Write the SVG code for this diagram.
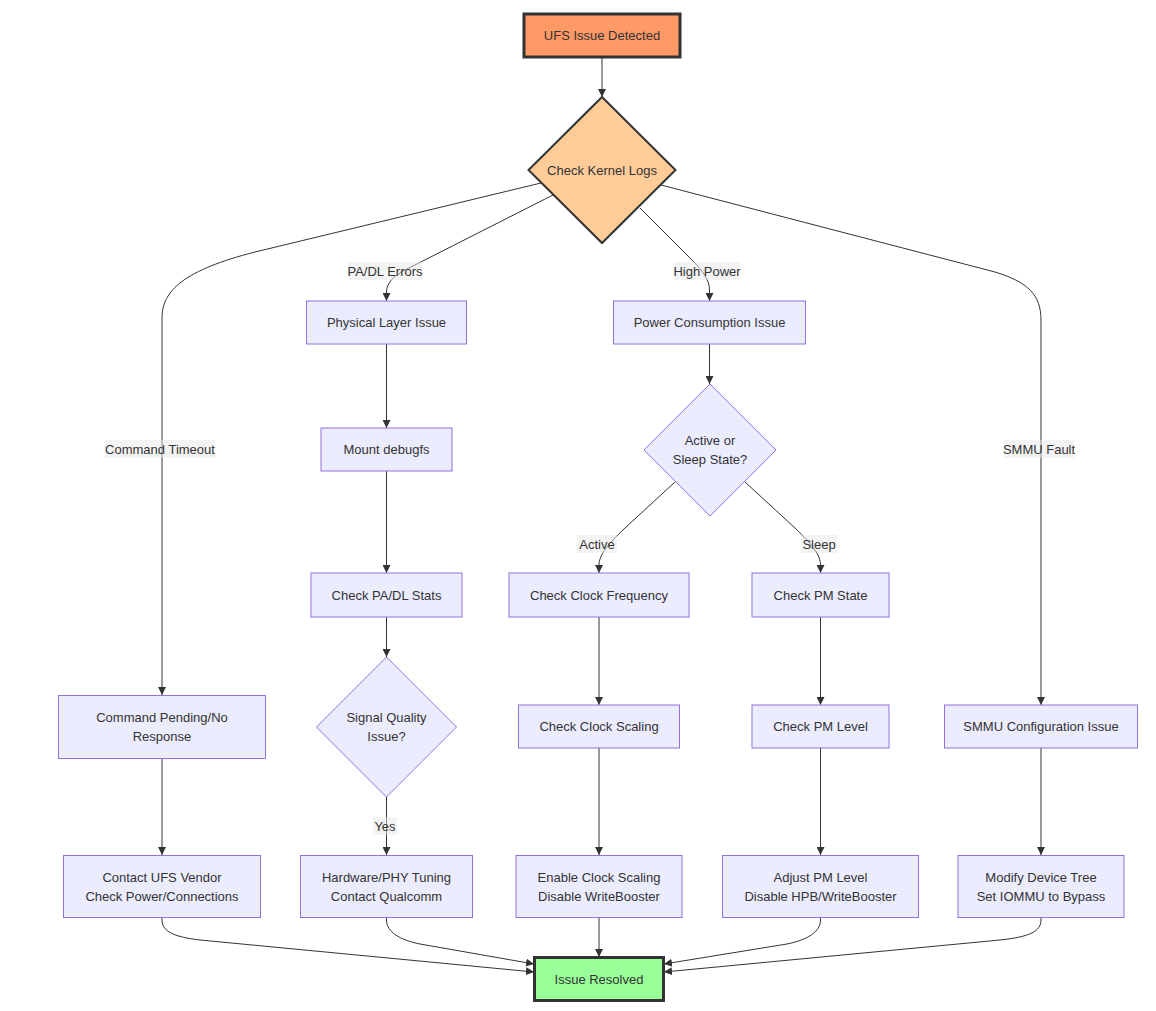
<svg xmlns="http://www.w3.org/2000/svg" width="1156" height="1011" viewBox="0 0 1156 1011">
<defs>
<marker id="arr" viewBox="0 0 10 10" refX="10" refY="5" markerWidth="8" markerHeight="8" markerUnits="userSpaceOnUse" orient="auto">
<path d="M0,0 L10,5 L0,10 z" fill="#333"/>
</marker>
<style>
.n{fill:#ECECFF;stroke:#9370DB;stroke-width:1}
.t{font-family:"Liberation Sans",Arial,sans-serif;font-size:13px;fill:#333;text-anchor:middle;dominant-baseline:central}
.e{fill:none;stroke:#333;stroke-width:1;marker-end:url(#arr)}
.lb{fill:#e8e8e8;fill-opacity:0.5}
</style>
</defs>
<rect width="1156" height="1011" fill="#fff"/>
<g id="connectors">
<path class="e" d="M602,57 L602,97"/>
<path class="e" d="M541,183 L255,252 C185,270 162,290 162,318 L162,695"/>
<path class="e" d="M553,195 L405,270 C392,277 386.5,284 386.5,292 L386.5,301"/>
<path class="e" d="M640,208 L690,258 C703,271 709.5,280 709.5,290 L709.5,301"/>
<path class="e" d="M661,185 L995,272 C1028,282 1041,295 1041,320 L1041,705"/>
<path class="e" d="M386.5,344 L386.5,428"/>
<path class="e" d="M386.5,471 L386.5,573"/>
<path class="e" d="M386.5,617 L386.5,657"/>
<path class="e" d="M386.5,797 L386.5,855"/>
<path class="e" d="M709.5,344 L709.5,384"/>
<path class="e" d="M675,482 L625,528 C606,546 599,556 599,565 L599,573"/>
<path class="e" d="M745,482 L795,528 C814,546 820.5,556 820.5,565 L820.5,573"/>
<path class="e" d="M599,617 L599,705"/>
<path class="e" d="M599,748 L599,855"/>
<path class="e" d="M820.5,617 L820.5,705"/>
<path class="e" d="M820.5,748 L820.5,855"/>
<path class="e" d="M162,758 L162,855"/>
<path class="e" d="M1041,748 L1041,855"/>
<path class="e" d="M162,917 L162,920 C162,932 175,937 200,940 L534,972"/>
<path class="e" d="M386.5,917 L386.5,920 C386.5,932 400,940 420,944 L534,964"/>
<path class="e" d="M599,917 L599,957"/>
<path class="e" d="M820.5,917 L820.5,920 C820.5,932 807,940 787,944 L664,964"/>
<path class="e" d="M1041,917 L1041,920 C1041,932 1028,937 1000,940 L664,972"/>
<rect class="lb" x="105" y="440" width="110" height="18"/>
<text class="t" x="160" y="449">Command Timeout</text>
<rect class="lb" x="348" y="262" width="74" height="18"/>
<text class="t" x="385" y="271">PA/DL Errors</text>
<rect class="lb" x="674" y="262" width="66" height="18"/>
<text class="t" x="707" y="271">High Power</text>
<rect class="lb" x="1004" y="440" width="70" height="18"/>
<text class="t" x="1039" y="449">SMMU Fault</text>
<rect class="lb" x="577" y="535" width="40" height="18"/>
<text class="t" x="597" y="544">Active</text>
<rect class="lb" x="801" y="535" width="36" height="18"/>
<text class="t" x="819" y="544">Sleep</text>
<rect class="lb" x="373" y="817" width="24" height="18"/>
<text class="t" x="385" y="826">Yes</text>
</g>
<g id="start">
<rect x="524" y="14" width="156" height="43" fill="#FF9966" stroke="#333" stroke-width="3"/>
<text class="t" x="602" y="35.5">UFS Issue Detected</text>
</g>
<g id="kernel">
<polygon points="602,97 675.5,170 602,243 528.5,170" fill="#FFCC99" stroke="#333" stroke-width="2"/>
<text class="t" x="602" y="170">Check Kernel Logs</text>
</g>
<g id="phys">
<rect class="n" x="306.5" y="301" width="160" height="43"/>
<text class="t" x="386.5" y="322.5">Physical Layer Issue</text>
</g>
<g id="power">
<rect class="n" x="613.5" y="301" width="192" height="43"/>
<text class="t" x="709.5" y="322.5">Power Consumption Issue</text>
</g>
<g id="mount">
<rect class="n" x="321" y="428" width="131" height="43"/>
<text class="t" x="386.5" y="449.5">Mount debugfs</text>
</g>
<g id="state">
<polygon class="n" points="710,384 776,450 710,516 644,450"/>
<text class="t" x="710" y="440">Active or</text>
<text class="t" x="710" y="459">Sleep State?</text>
</g>
<g id="padl">
<rect class="n" x="311" y="573" width="151" height="44"/>
<text class="t" x="386.5" y="595">Check PA/DL Stats</text>
</g>
<g id="clkfreq">
<rect class="n" x="509" y="573" width="180" height="44"/>
<text class="t" x="599" y="595">Check Clock Frequency</text>
</g>
<g id="pmstate">
<rect class="n" x="752" y="573" width="137" height="44"/>
<text class="t" x="820.5" y="595">Check PM State</text>
</g>
<g id="cmdpend">
<rect class="n" x="58.5" y="695.5" width="207" height="63"/>
<text class="t" x="162" y="717">Command Pending/No</text>
<text class="t" x="162" y="736">Response</text>
</g>
<g id="signal">
<polygon class="n" points="386.5,657 456.5,727 386.5,797 316.5,727"/>
<text class="t" x="386.5" y="717">Signal Quality</text>
<text class="t" x="386.5" y="736">Issue?</text>
</g>
<g id="clkscale">
<rect class="n" x="518.5" y="705" width="161" height="43"/>
<text class="t" x="599" y="726.5">Check Clock Scaling</text>
</g>
<g id="pmlevel">
<rect class="n" x="752" y="705" width="137" height="43"/>
<text class="t" x="820.5" y="726.5">Check PM Level</text>
</g>
<g id="smmu">
<rect class="n" x="944.5" y="705" width="193" height="43"/>
<text class="t" x="1041" y="726.5">SMMU Configuration Issue</text>
</g>
<g id="vendor">
<rect class="n" x="63.5" y="855.5" width="197" height="62"/>
<text class="t" x="162" y="877">Contact UFS Vendor</text>
<text class="t" x="162" y="896">Check Power/Connections</text>
</g>
<g id="hwphy">
<rect class="n" x="300.5" y="855.5" width="172" height="62"/>
<text class="t" x="386.5" y="877">Hardware/PHY Tuning</text>
<text class="t" x="386.5" y="896">Contact Qualcomm</text>
</g>
<g id="enclk">
<rect class="n" x="516" y="855.5" width="166" height="62"/>
<text class="t" x="599" y="877">Enable Clock Scaling</text>
<text class="t" x="599" y="896">Disable WriteBooster</text>
</g>
<g id="adjpm">
<rect class="n" x="722.5" y="855.5" width="196" height="62"/>
<text class="t" x="820.5" y="877">Adjust PM Level</text>
<text class="t" x="820.5" y="896">Disable HPB/WriteBooster</text>
</g>
<g id="devtree">
<rect class="n" x="958" y="855.5" width="166" height="62"/>
<text class="t" x="1041" y="877">Modify Device Tree</text>
<text class="t" x="1041" y="896">Set IOMMU to Bypass</text>
</g>
<g id="resolved">
<rect x="534.5" y="957.5" width="129" height="43" fill="#99FF99" stroke="#333" stroke-width="3"/>
<text class="t" x="599" y="979">Issue Resolved</text>
</g>
</svg>
